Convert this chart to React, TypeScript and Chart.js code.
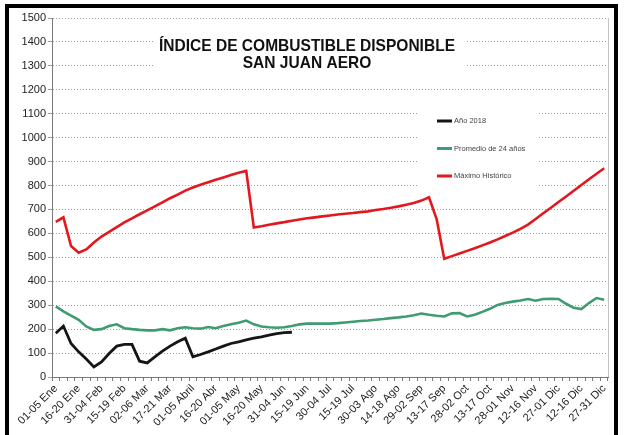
import React, { useEffect, useRef } from 'react';
import { Chart, registerables } from 'chart.js';

Chart.register(...registerables);

// ---- data ----
const tickLabels = [
  '01-05 Ene', '16-20 Ene', '31-04 Feb', '15-19 Feb', '02-06 Mar', '17-21 Mar',
  '01-05 Abril', '16-20 Abr', '01-05 May', '16-20 May', '31-04 Jun', '15-19 Jun',
  '30-04 Jul', '15-19 Jul', '30-03 Ago', '14-18 Ago', '29-02 Sep', '13-17 Sep',
  '28-02 Oct', '13-17 Oct', '28-01 Nov', '12-16 Nov', '27-01 Dic', '12-16 Dic', '27-31 Dic',
];
const periodsPerLabel = 3;
const periodCount = 73;

const anio2018 = [
  183, 213, 140, 105, 75, 42, 63, 98, 129, 136, 136, 66, 59, 84, 108, 129, 147, 162,
  84, 94, 105, 117, 129, 140, 147, 155, 162, 168, 175, 181, 185, 187,
];

const promedio24 = [
  295, 274, 256, 239, 211, 197, 200, 213, 220, 204, 200, 197, 195, 195, 200, 195, 204, 208,
  204, 202, 209, 204, 213, 220, 227, 236, 220, 211, 208, 206, 208, 213, 220, 223, 223, 223,
  223, 225, 228, 231, 234, 236, 239, 242, 246, 249, 253, 258, 265, 260, 256, 253, 266, 267,
  253, 260, 272, 285, 301, 309, 315, 320, 326, 319, 326, 327, 326, 306, 289, 284, 309, 330, 323,
];

const maximoHistorico = [
  648, 667, 547, 519, 533, 562, 587, 606, 626, 646, 663, 680, 696, 713, 730, 747, 762, 779,
  792, 803, 814, 824, 834, 844, 853, 861, 625, 630, 636, 642, 647, 653, 658, 663, 667, 671,
  675, 679, 682, 685, 689, 692, 698, 702, 707, 713, 720, 727, 737, 751, 660, 494, 505, 516,
  527, 538, 550, 562, 575, 589, 603, 619, 637, 660, 684, 707, 731, 754, 778, 802, 826, 849, 872,
];

const seriesNames = ['Año 2018', 'Promedio de 24 años', 'Máximo Histórico'];
const titleLines = ['ÍNDICE DE COMBUSTIBLE DISPONIBLE', 'SAN JUAN AERO'];
const yMin = 0;
const yMax = 1500;
const yStep = 100;

const categories = Array.from({ length: periodCount }, (_, i) =>
  i % periodsPerLabel === 0 ? tickLabels[i / periodsPerLabel] : ''
);

const FONT = '"Liberation Sans", Arial, sans-serif';

const decorPlugin = {
  id: 'decor',
  beforeDraw(chart: any) {
    const ctx = chart.ctx;
    ctx.save();
    ctx.fillStyle = '#ffffff';
    ctx.fillRect(0, 0, chart.width, chart.height);
    ctx.restore();
  },
  beforeDatasetsDraw(chart: any) {
    const { ctx, chartArea: ca } = chart;
    ctx.save();
    // plot-area right border
    ctx.strokeStyle = '#c4c4c4';
    ctx.lineWidth = 1;
    ctx.beginPath();
    ctx.moveTo(ca.right + 0.5, ca.top);
    ctx.lineTo(ca.right + 0.5, ca.bottom);
    ctx.stroke();

    // title box + text
    ctx.fillStyle = '#ffffff';
    ctx.fillRect(155, 28, 310, 46);
    ctx.fillStyle = '#111111';
    ctx.font = 'bold 17px ' + FONT;
    ctx.textAlign = 'center';
    ctx.textBaseline = 'alphabetic';
    const w1 = ctx.measureText(titleLines[0]).width;
    const k = 296 / w1;
    titleLines.forEach((t, i) => {
      ctx.save();
      ctx.translate(307, 51 + i * 17);
      ctx.scale(k, 1);
      ctx.fillText(t, 0, 0);
      ctx.restore();
    });

    // legend box + entries
    ctx.fillStyle = '#ffffff';
    ctx.fillRect(418, 106, 120, 88);
    chart.data.datasets.forEach((ds: any, i: number) => {
      const y = 121 + i * 27.5;
      ctx.strokeStyle = ds.borderColor;
      ctx.lineWidth = 3;
      ctx.beginPath();
      ctx.moveTo(437, y);
      ctx.lineTo(452, y);
      ctx.stroke();
      ctx.fillStyle = '#444444';
      ctx.font = '7.5px ' + FONT;
      ctx.textAlign = 'left';
      ctx.textBaseline = 'middle';
      ctx.fillText(ds.label, 454, y);
    });
    ctx.restore();
  },
  afterDraw(chart: any) {
    const ctx = chart.ctx;
    ctx.save();
    ctx.strokeStyle = '#000000';
    ctx.lineWidth = 4;
    ctx.beginPath();
    ctx.moveTo(7, 440);
    ctx.lineTo(7, 6);
    ctx.lineTo(616, 6);
    ctx.lineTo(616, 440);
    ctx.stroke();
    ctx.restore();
  },
};

export default function App() {
  const ref = useRef<HTMLCanvasElement | null>(null);

  useEffect(() => {
    if (!ref.current) return;
    const chart = new Chart(ref.current, {
      type: 'line',
      data: {
        labels: categories,
        datasets: [
          {
            label: seriesNames[0],
            data: anio2018,
            borderColor: '#151515',
            borderWidth: 2.8,
            pointRadius: 0,
            tension: 0,
            fill: false,
          },
          {
            label: seriesNames[1],
            data: promedio24,
            borderColor: '#3f9b70',
            borderWidth: 2.6,
            pointRadius: 0,
            tension: 0,
            fill: false,
          },
          {
            label: seriesNames[2],
            data: maximoHistorico,
            borderColor: '#e3181e',
            borderWidth: 2.6,
            pointRadius: 0,
            tension: 0,
            fill: false,
          },
        ],
      },
      options: {
        responsive: false,
        animation: false,
        devicePixelRatio: 1,
        layout: { padding: { top: 18, right: 17, left: 0, bottom: 0 } },
        plugins: {
          legend: { display: false },
          title: { display: false },
          tooltip: { enabled: false },
        },
        scales: {
          x: {
            type: 'category',
            offset: true,
            grid: {
              offset: true,
              drawOnChartArea: false,
              drawTicks: true,
              tickLength: 4,
              color: '#7a7a7a',
            },
            border: { display: true, color: '#7a7a7a', width: 1 },
            ticks: {
              autoSkip: false,
              minRotation: 45,
              maxRotation: 45,
              color: '#222222',
              font: { size: 11, family: FONT },
              padding: 1,
            },
            afterFit: (s: any) => {
              s.height = 58;
            },
          },
          y: {
            min: yMin,
            max: yMax,
            ticks: {
              stepSize: yStep,
              color: '#222222',
              font: { size: 11, family: FONT },
              padding: 2,
              callback: (v: any) => String(v),
            },
            grid: {
              color: '#a0a0a0',
              lineWidth: 1,
              drawTicks: true,
              tickLength: 4,
            },
            border: { display: true, color: '#7a7a7a', width: 1, dash: [1, 2] },
            afterFit: (s: any) => {
              s.width = 52;
            },
          },
        },
      },
      plugins: [decorPlugin],
    });
    return () => chart.destroy();
  }, []);

  return (
    <div style={{ position: 'fixed', left: 0, top: 0, width: 625, height: 435 }}>
      <canvas ref={ref} width={625} height={435} />
    </div>
  );
}
